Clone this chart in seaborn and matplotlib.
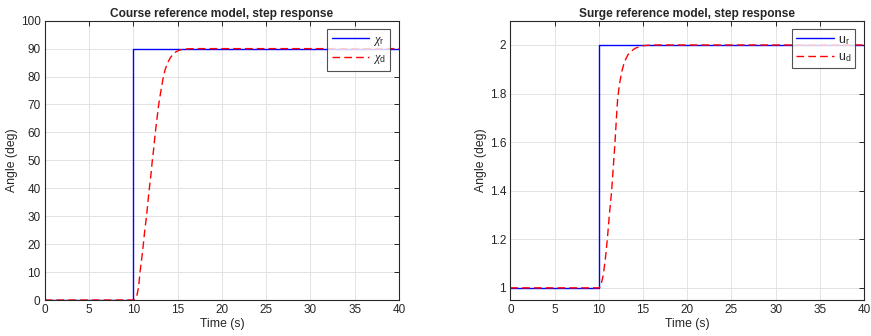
import matplotlib
matplotlib.use("Agg")
import matplotlib.pyplot as plt
import seaborn as sns
import pandas as pd

# ---- data ----
course_ref_t = [0, 10, 10, 40]
course_ref_v = [0, 0, 90, 90]
course_d_t = [0, 10.0, 10.2, 10.4, 10.6, 10.76, 11.0, 11.14, 11.3, 11.5, 11.65, 11.82,
              12.0, 12.15, 12.3, 12.49, 12.7, 12.87, 13.1, 13.4, 13.6, 13.89, 14.2,
              14.5, 14.8, 15.1, 15.5, 16.0, 17.0, 40]
course_d_v = [0, 0, 0.3, 1.5, 4.5, 10, 16, 20, 25, 30, 35, 40,
              45, 50, 54, 60, 65.5, 70, 74.5, 80, 82.5, 85, 86.8,
              88, 88.8, 89.3, 89.7, 89.9, 90, 90]

surge_ref_t = [0, 10, 10, 40]
surge_ref_v = [1, 1, 2, 2]
surge_d_t = [0, 10.0, 10.2, 10.5, 10.75, 10.97, 11.2, 11.46, 11.65, 11.84, 12.0, 12.14,
             12.35, 12.6, 12.9, 13.3, 13.7, 14.1, 14.6, 15.0, 16.0, 40]
surge_d_v = [1, 1, 1.005, 1.05, 1.12, 1.2, 1.3, 1.4, 1.5, 1.6, 1.7, 1.78,
             1.84, 1.89, 1.93, 1.96, 1.975, 1.986, 1.993, 1.997, 2.0, 2.0]

xticks = list(range(0, 41, 5))
course_yticks = list(range(0, 101, 10))
surge_yticks = [1, 1.2, 1.4, 1.6, 1.8, 2]

sns.set_theme(style="white")
plt.rcParams['font.family'] = ['Liberation Sans', 'DejaVu Sans']
plt.rcParams['mathtext.fontset'] = 'custom'
plt.rcParams['mathtext.rm'] = 'Liberation Sans'
plt.rcParams['mathtext.it'] = 'Liberation Serif:italic'

fig = plt.figure(figsize=(8.71, 3.36), dpi=100)
ax1 = fig.add_axes([0.0513, 0.1071, 0.4068, 0.8313])
ax2 = fig.add_axes([0.5859, 0.1071, 0.4061, 0.8313])

def draw(ax, rt, rv, dt, dv, lr, ld, ylim, yticks, title):
    sns.lineplot(x=rt, y=rv, ax=ax, color=(0, 0, 1), lw=1.0, sort=False,
                 estimator=None, label=lr)
    sns.lineplot(x=dt, y=dv, ax=ax, color=(1, 0, 0), lw=1.0, sort=False,
                 estimator=None, label=ld, linestyle=(0, (5.5, 3)))
    ax.set_xlim(0, 40)
    ax.set_ylim(*ylim)
    ax.set_xticks(xticks)
    ax.set_yticks(yticks)
    ax.set_yticklabels([f"{v:g}" for v in yticks])
    ax.grid(True, color='#e3e3e3', lw=0.7)
    ax.set_axisbelow(True)
    ax.tick_params(direction='in', top=True, right=True, length=3.5, width=0.7,
                   labelsize=8.5, colors='#262626', pad=3)
    for s in ax.spines.values():
        s.set_color('#262626')
        s.set_linewidth(0.8)
    ax.set_xlabel("Time (s)", fontsize=8.8, color='#262626', labelpad=1)
    ax.set_ylabel("Angle (deg)", fontsize=8.8, color='#262626', labelpad=2)
    ax.set_title(title, fontsize=8.6, fontweight='bold', pad=3)
    leg = ax.legend(loc='upper right', fontsize=9, handlelength=3.0,
                    frameon=True, fancybox=False, borderaxespad=0.7,
                    handletextpad=0.3, labelspacing=0.35, borderpad=0.35)
    leg.get_frame().set_edgecolor('#262626')
    leg.get_frame().set_linewidth(0.8)

draw(ax1, course_ref_t, course_ref_v, course_d_t, course_d_v,
     r'$\chi_\mathrm{r}$', r'$\chi_\mathrm{d}$', (0, 100), course_yticks,
     "Course reference model, step response")
draw(ax2, surge_ref_t, surge_ref_v, surge_d_t, surge_d_v,
     r'u$_\mathrm{r}$', r'u$_\mathrm{d}$', (0.95, 2.1), surge_yticks,
     "Surge reference model, step response")

fig.savefig("out.png", dpi=100)
